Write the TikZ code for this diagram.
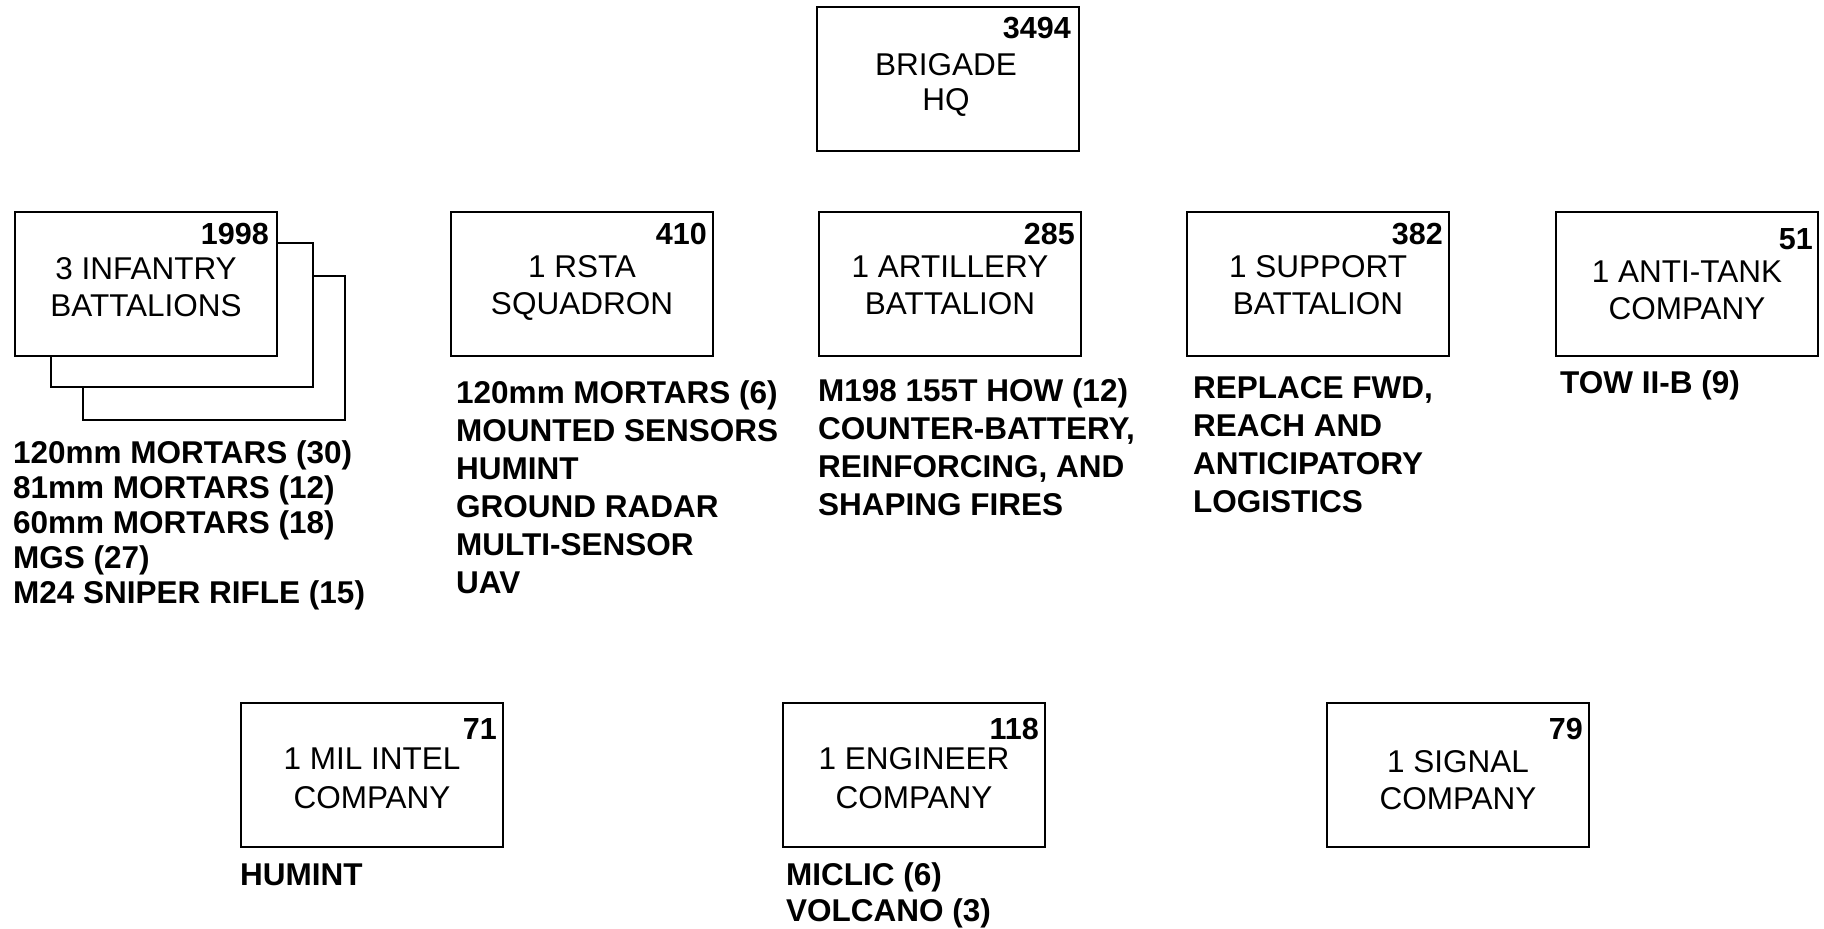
\documentclass[tikz,border=0pt]{standalone}
\usepackage{fontspec}
\setmainfont{Liberation Sans}
\usetikzlibrary{calc}
\begin{document}
\begin{tikzpicture}[x=1pt,y=-1pt,
  unitbox/.style={draw=black, line width=1.8pt, fill=white, minimum width=262pt, minimum height=144pt, anchor=north west, inner sep=0pt, outer sep=0pt},
  lbl/.style={font=\fontsize{31.5}{37}\selectfont, inner sep=0pt, anchor=base},
  num/.style={font=\fontsize{30.5}{36}\selectfont\bfseries, inner sep=0pt, anchor=base east},
  lstA/.style={font=\fontsize{31.5}{35}\selectfont\bfseries, inner sep=0pt, anchor=base west},
  lstB/.style={font=\fontsize{31.5}{38}\selectfont\bfseries, inner sep=0pt, anchor=base west},
  lstC/.style={font=\fontsize{31.5}{36}\selectfont\bfseries, inner sep=0pt, anchor=base west}]
\useasboundingbox (0,0) rectangle (1824,929);

% Brigade HQ
\node[unitbox] (hq) at (817,7) {};
\node[num] (hqn) at ($(hq.north east)+(-8,31)$) {3494};
\node[lbl] (hql) at ($(hq.north)+(-2,68)$) {\begin{tabular}[t]{@{}c@{}}BRIGADE\\[-2pt]HQ\end{tabular}};

% Infantry battalions (stacked)
\node[unitbox] (inf3) at (83,276) {};
\node[unitbox] (inf2) at (51,243) {};
\node[unitbox] (inf) at (15,212) {};
\node[num] (infn) at ($(inf.north east)+(-8,32)$) {1998};
\node[lbl] (infl) at ($(inf.north)+(0,67)$) {\begin{tabular}[t]{@{}c@{}}3 INFANTRY\\BATTALIONS\end{tabular}};
\node[lstA] (infx) at (13,463) {\begin{tabular}[t]{@{}l@{}}120mm MORTARS (30)\\81mm MORTARS (12)\\60mm MORTARS (18)\\MGS (27)\\M24 SNIPER RIFLE (15)\end{tabular}};

% RSTA squadron
\node[unitbox] (rsta) at (451,212) {};
\node[num] (rstan) at ($(rsta.north east)+(-6,32)$) {410};
\node[lbl] (rstal) at ($(rsta.north)+(0,65)$) {\begin{tabular}[t]{@{}c@{}}1 RSTA\\SQUADRON\end{tabular}};
\node[lstB] (rstax) at (456,403) {\begin{tabular}[t]{@{}l@{}}120mm MORTARS (6)\\MOUNTED SENSORS\\HUMINT\\GROUND RADAR\\MULTI-SENSOR\\UAV\end{tabular}};

% Artillery battalion
\node[unitbox] (art) at (819,212) {};
\node[num] (artn) at ($(art.north east)+(-6,32)$) {285};
\node[lbl] (artl) at ($(art.north)+(0,65)$) {\begin{tabular}[t]{@{}c@{}}1 ARTILLERY\\BATTALION\end{tabular}};
\node[lstB] (artx) at (818,401) {\begin{tabular}[t]{@{}l@{}}M198 155T HOW (12)\\COUNTER-BATTERY,\\REINFORCING, AND\\SHAPING FIRES\end{tabular}};

% Support battalion
\node[unitbox] (sup) at (1187,212) {};
\node[num] (supn) at ($(sup.north east)+(-6,32)$) {382};
\node[lbl] (supl) at ($(sup.north)+(0,65)$) {\begin{tabular}[t]{@{}c@{}}1 SUPPORT\\BATTALION\end{tabular}};
\node[lstB] (supx) at (1193,398) {\begin{tabular}[t]{@{}l@{}}REPLACE FWD,\\REACH AND\\ANTICIPATORY\\LOGISTICS\end{tabular}};

% Anti-tank company
\node[unitbox] (at) at (1556,212) {};
\node[num] (atn) at ($(at.north east)+(-5,37)$) {51};
\node[lbl] (atl) at ($(at.north)+(0,70)$) {\begin{tabular}[t]{@{}c@{}}1 ANTI-TANK\\COMPANY\end{tabular}};
\node[lstB] (atx) at (1560,393) {TOW II-B (9)};

% Military intelligence company
\node[unitbox] (mi) at (241,703) {};
\node[num] (min) at ($(mi.north east)+(-6,36)$) {71};
\node[lbl] (mil) at ($(mi.north)+(0,66)$) {\begin{tabular}[t]{@{}c@{}}1 MIL INTEL\\[2pt]COMPANY\end{tabular}};
\node[lstC] (mix) at (240,885) {HUMINT};

% Engineer company
\node[unitbox] (eng) at (783,703) {};
\node[num] (engn) at ($(eng.north east)+(-6,36)$) {118};
\node[lbl] (engl) at ($(eng.north)+(0,66)$) {\begin{tabular}[t]{@{}c@{}}1 ENGINEER\\[2pt]COMPANY\end{tabular}};
\node[lstC] (engx) at (786,885) {\begin{tabular}[t]{@{}l@{}}MICLIC (6)\\VOLCANO (3)\end{tabular}};

% Signal company
\node[unitbox] (sig) at (1327,703) {};
\node[num] (sign) at ($(sig.north east)+(-6,36)$) {79};
\node[lbl] (sigl) at ($(sig.north)+(0,69)$) {\begin{tabular}[t]{@{}c@{}}1 SIGNAL\\COMPANY\end{tabular}};
\end{tikzpicture}
\end{document}
